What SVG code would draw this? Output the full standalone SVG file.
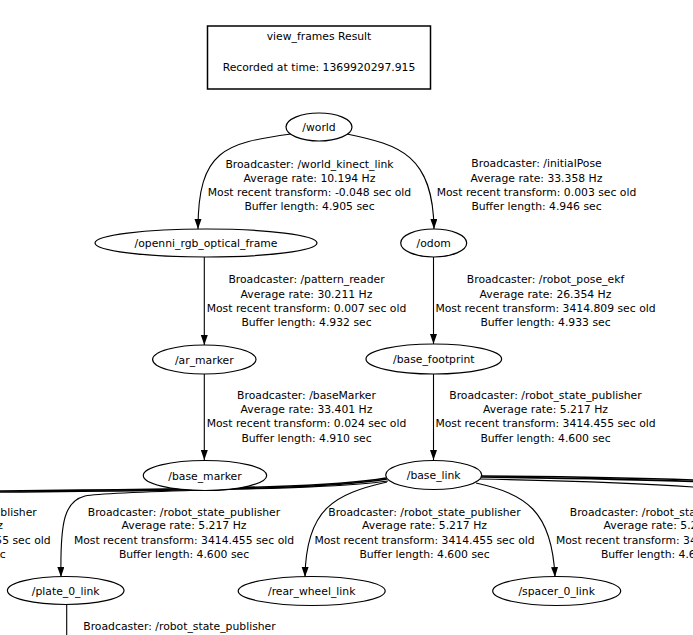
<svg xmlns="http://www.w3.org/2000/svg" width="693" height="635" viewBox="0 0 693 635">
<defs>
<marker id="arr" markerWidth="10" markerHeight="8" refX="10" refY="3.5" orient="auto" markerUnits="userSpaceOnUse">
<path d="M0,0 L10,3.5 L0,7 z" fill="#000"/>
</marker>
<style>
text{font-family:"DejaVu Sans","Liberation Sans",sans-serif;font-size:10.8px;fill:#000;text-anchor:middle}
.n ellipse{fill:#fff;stroke:#000;stroke-width:1.2}
.e{fill:none;stroke:#000;stroke-width:1.1}
.ea{fill:none;stroke:#000;stroke-width:1.1;marker-end:url(#arr)}
.b{fill:none;stroke:#000;stroke-width:1.6}
</style>
</defs>
<rect width="693" height="635" fill="#fff"/>
<g id="title">
<rect x="207.5" y="26" width="223" height="63" fill="#fff" stroke="#000" stroke-width="1.5"/>
<text x="319" y="40">view_frames Result</text>
<text x="319" y="71">Recorded at time: 1369920297.915</text>
</g>
<g id="connectors">
<path class="ea" d="M291,134 C225,143 198,150 198,229"/>
<path class="ea" d="M347,134 C400,145 433,155 434,229"/>
<path class="ea" d="M204.3,257 L204.3,345"/>
<path class="ea" d="M433.5,257 L433.5,344"/>
<path class="ea" d="M204.3,374 L204.3,460"/>
<path class="ea" d="M433.5,374 L433.5,460"/>
<path class="b" d="M386,478 C340,486 250,489 0,491"/>
<path class="b" d="M387,479 C340,487 250,490 0,492"/>
<path class="ea" d="M388,481 C320,491 120,489 85,496 C65,501 60,520 61,577"/>
<path class="ea" d="M387,482 C335,494 306,508 305,577"/>
<path class="ea" d="M476,483 C525,494 552,510 555,577"/>
<path class="b" d="M481,476 C560,476.5 640,478 693,480"/>
<path class="b" d="M481,477 C560,478 640,479.5 693,481.5"/>
<path class="e" d="M479,479 C560,480.5 640,483 693,487"/>
<path class="e" d="M66.7,604 L66.7,635"/>
</g>
<g id="labels">
<text x="309.5" y="168">Broadcaster: /world_kinect_link</text>
<text x="309.5" y="182">Average rate: 10.194 Hz</text>
<text x="309.5" y="196">Most recent transform: -0.048 sec old</text>
<text x="309.5" y="210">Buffer length: 4.905 sec</text>
<text x="536.5" y="167">Broadcaster: /initialPose</text>
<text x="536.5" y="182">Average rate: 33.358 Hz</text>
<text x="536.5" y="196">Most recent transform: 0.003 sec old</text>
<text x="536.5" y="210">Buffer length: 4.946 sec</text>
<text x="306.5" y="283">Broadcaster: /pattern_reader</text>
<text x="306.5" y="298">Average rate: 30.211 Hz</text>
<text x="306.5" y="312">Most recent transform: 0.007 sec old</text>
<text x="306.5" y="326">Buffer length: 4.932 sec</text>
<text x="545.5" y="283">Broadcaster: /robot_pose_ekf</text>
<text x="545.5" y="298">Average rate: 26.354 Hz</text>
<text x="545.5" y="312">Most recent transform: 3414.809 sec old</text>
<text x="545.5" y="326">Buffer length: 4.933 sec</text>
<text x="306.5" y="399">Broadcaster: /baseMarker</text>
<text x="306.5" y="413">Average rate: 33.401 Hz</text>
<text x="306.5" y="427">Most recent transform: 0.024 sec old</text>
<text x="306.5" y="442">Buffer length: 4.910 sec</text>
<text x="545.5" y="399">Broadcaster: /robot_state_publisher</text>
<text x="545.5" y="413">Average rate: 5.217 Hz</text>
<text x="545.5" y="427">Most recent transform: 3414.455 sec old</text>
<text x="545.5" y="442">Buffer length: 4.600 sec</text>
<text x="-59.5" y="515.5">Broadcaster: /robot_state_publisher</text>
<text x="-59.5" y="529">Average rate: 5.217 Hz</text>
<text x="-59.5" y="544">Most recent transform: 3414.455 sec old</text>
<text x="-59.5" y="558">Buffer length: 4.600 sec</text>
<text x="184" y="515.5">Broadcaster: /robot_state_publisher</text>
<text x="184" y="529">Average rate: 5.217 Hz</text>
<text x="184" y="544">Most recent transform: 3414.455 sec old</text>
<text x="184" y="558">Buffer length: 4.600 sec</text>
<text x="424.5" y="515.5">Broadcaster: /robot_state_publisher</text>
<text x="424.5" y="529">Average rate: 5.217 Hz</text>
<text x="424.5" y="544">Most recent transform: 3414.455 sec old</text>
<text x="424.5" y="558">Buffer length: 4.600 sec</text>
<text x="666" y="515.5">Broadcaster: /robot_state_publisher</text>
<text x="666" y="529">Average rate: 5.217 Hz</text>
<text x="666" y="544">Most recent transform: 3414.455 sec old</text>
<text x="666" y="558">Buffer length: 4.600 sec</text>
<text x="179.5" y="630">Broadcaster: /robot_state_publisher</text>
</g>
<g id="world" class="n"><ellipse cx="319" cy="127" rx="33" ry="14"/><text x="319" y="131">/world</text></g>
<g id="openni_rgb_optical_frame" class="n"><ellipse cx="206" cy="243" rx="111" ry="14"/><text x="206" y="247">/openni_rgb_optical_frame</text></g>
<g id="odom" class="n"><ellipse cx="433.7" cy="243" rx="33" ry="14"/><text x="433.7" y="247">/odom</text></g>
<g id="ar_marker" class="n"><ellipse cx="204.3" cy="359.5" rx="51.7" ry="14.5"/><text x="204.3" y="363.5">/ar_marker</text></g>
<g id="base_footprint" class="n"><ellipse cx="433.8" cy="359" rx="67.8" ry="15"/><text x="433.8" y="363">/base_footprint</text></g>
<g id="base_marker" class="n"><ellipse cx="205" cy="475.5" rx="61.7" ry="15"/><text x="205" y="479.5">/base_marker</text></g>
<g id="base_link" class="n"><ellipse cx="433.7" cy="475" rx="48" ry="14.5"/><text x="433.7" y="479">/base_link</text></g>
<g id="plate_0_link" class="n"><ellipse cx="65.7" cy="590.5" rx="58.3" ry="14"/><text x="65.7" y="594.5">/plate_0_link</text></g>
<g id="rear_wheel_link" class="n"><ellipse cx="311.7" cy="591" rx="73.5" ry="14.5"/><text x="311.7" y="595">/rear_wheel_link</text></g>
<g id="spacer_0_link" class="n"><ellipse cx="556.7" cy="591" rx="64" ry="14.5"/><text x="556.7" y="595">/spacer_0_link</text></g>
</svg>
